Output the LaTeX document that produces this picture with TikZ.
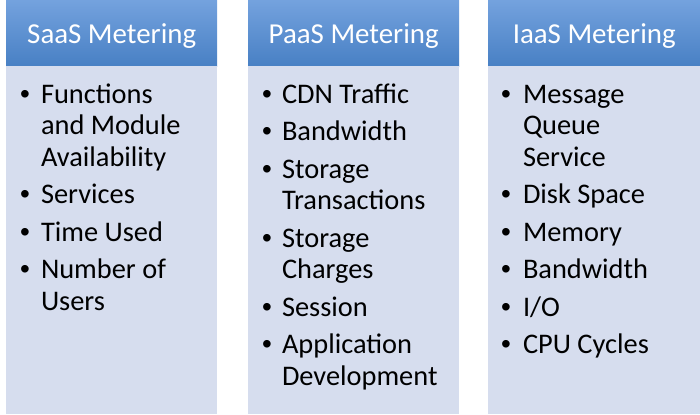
\documentclass[tikz,border=0pt]{standalone}
\usepackage{fontspec}
\setmainfont{Carlito}
\newfontfamily\bulletfont{Liberation Sans}
\definecolor{hdrtop}{RGB}{116,162,222}
\definecolor{hdrbot}{RGB}{72,128,196}
\definecolor{bodyfill}{RGB}{214,221,238}
\newcommand{\itemlines}[1]{\vtop{\baselineskip=31.5bp\halign{##\hfil\cr#1\crcr}}}
\tikzset{
  hdr/.style={rectangle, top color=hdrtop, bottom color=hdrbot, draw=none,
    minimum height=66bp, inner sep=0pt, anchor=north west, text=white,
    font=\fontsize{29}{29}\selectfont, text height=20bp, text depth=0bp},
  bodybox/.style={rectangle, fill=bodyfill, draw=none, minimum height=348bp,
    inner sep=0pt, anchor=north west},
  item/.style={anchor=base west, inner sep=0pt, outer sep=0pt,
    font=\fontsize{28.5}{31.5}\selectfont},
  bul/.style={anchor=base, inner sep=0pt, font=\bulletfont\fontsize{28}{31.5}\selectfont}
}
\begin{document}
\begin{tikzpicture}[x=1bp,y=-1bp]
\useasboundingbox (0,0) rectangle (700,414);
% column 1
\node[hdr, minimum width=211bp] (h1) at (6,0) {SaaS Metering};
\node[bodybox, minimum width=211bp] (b1) at (6,66) {};
% column 2
\node[hdr, minimum width=211bp] (h2) at (248,0) {PaaS Metering};
\node[bodybox, minimum width=211bp] (b2) at (248,66) {};
% column 3
\node[hdr, minimum width=212bp] (h3) at (488,0) {IaaS Metering};
\node[bodybox, minimum width=212bp] (b3) at (488,66) {};

% items column 1
\node[bul] (p11) at (25,103) {•};
\node[item] (t11) at (41,103) {\itemlines{Functions\cr and Module\cr Availability}};
\node[bul] (p12) at (25,203.5) {•};
\node[item] (t12) at (41,203.5) {Services};
\node[bul] (p13) at (25,241) {•};
\node[item] (t13) at (41,241) {Time Used};
\node[bul] (p14) at (25,278.5) {•};
\node[item] (t14) at (41,278.5) {\itemlines{Number of\cr Users}};

% items column 2
\node[bul] (p21) at (267,103) {•};
\node[item] (t21) at (282,103) {CDN Traffic};
\node[bul] (p22) at (267,140.5) {•};
\node[item] (t22) at (282,140.5) {Bandwidth};
\node[bul] (p23) at (267,178) {•};
\node[item] (t23) at (282,178) {\itemlines{Storage\cr Transactions}};
\node[bul] (p24) at (267,247) {•};
\node[item] (t24) at (282,247) {\itemlines{Storage\cr Charges}};
\node[bul] (p25) at (267,316) {•};
\node[item] (t25) at (282,316) {Session};
\node[bul] (p26) at (267,353.5) {•};
\node[item] (t26) at (282,353.5) {\itemlines{Application\cr Development}};

% items column 3
\node[bul] (p31) at (506,103) {•};
\node[item] (t31) at (523,103) {\itemlines{Message\cr Queue\cr Service}};
\node[bul] (p32) at (506,203.5) {•};
\node[item] (t32) at (523,203.5) {Disk Space};
\node[bul] (p33) at (506,241) {•};
\node[item] (t33) at (523,241) {Memory};
\node[bul] (p34) at (506,278.5) {•};
\node[item] (t34) at (523,278.5) {Bandwidth};
\node[bul] (p35) at (506,316) {•};
\node[item] (t35) at (523,316) {I/O};
\node[bul] (p36) at (506,353.5) {•};
\node[item] (t36) at (523,353.5) {CPU Cycles};
\end{tikzpicture}
\end{document}
